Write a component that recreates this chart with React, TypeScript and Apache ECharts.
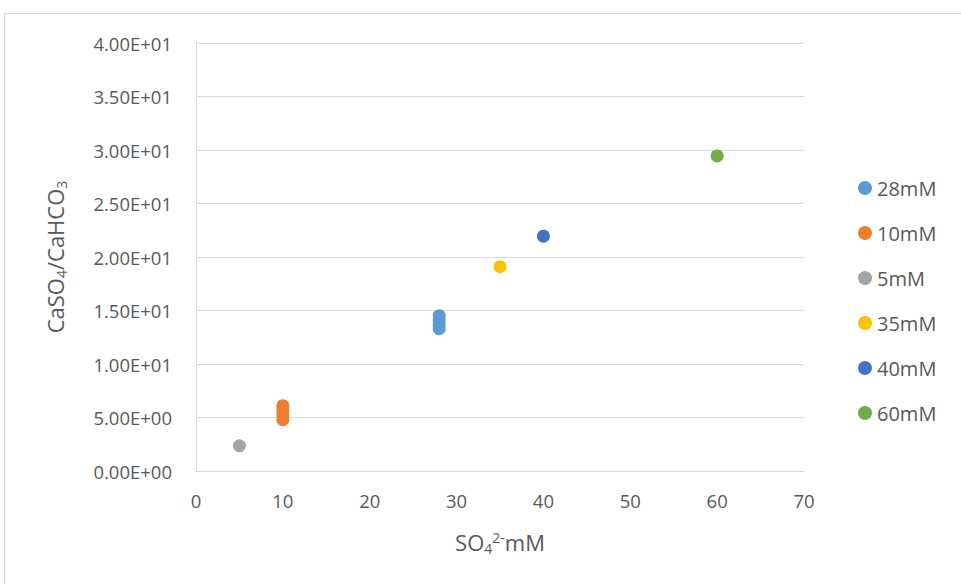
import React, { useEffect, useRef } from "react";
import * as echarts from "echarts";

const seriesNames = ["28mM", "10mM", "5mM", "35mM", "40mM", "60mM"];
const seriesColors = ["#5B9BD5", "#ED7D31", "#A5A5A5", "#FFC000", "#4472C4", "#70AD47"];
const s28: number[][] = [[28, 14.5], [28, 14.1], [28, 13.7], [28, 13.3]];
const s10: number[][] = [[10, 6.1], [10, 5.6], [10, 5.2], [10, 4.8]];
const s5: number[][] = [[5, 2.35]];
const s35: number[][] = [[35, 19.1]];
const s40: number[][] = [[40, 21.95]];
const s60: number[][] = [[60, 29.45]];
const seriesData = [s28, s10, s5, s35, s40, s60];

const xMin = 0, xMax = 70, xStep = 10;
const yMin = 0, yMax = 40, yStep = 5;

const FONT = "Open Sans";
const TXT = "#595959";
const GRID = "#d9d9d9";

function sci(v: number): string {
  if (v === 0) return "0.00E+00";
  const e = Math.floor(Math.log10(Math.abs(v)));
  const m = v / Math.pow(10, e);
  return `${m.toFixed(2)}E${e >= 0 ? "+" : "-"}${String(Math.abs(e)).padStart(2, "0")}`;
}

export default function App() {
  const ref = useRef<HTMLDivElement>(null);
  useEffect(() => {
    if (!ref.current) return;
    const chart = echarts.init(ref.current, null, { renderer: "svg" });
    chart.setOption({
      animation: false,
      backgroundColor: "#ffffff",
      textStyle: { fontFamily: FONT },
      graphic: [
        {
          type: "rect",
          shape: { x: 4.5, y: 13.5, width: 1200, height: 1200 },
          style: { fill: "none", stroke: "#d4d4d4", lineWidth: 1.2 },
          silent: true,
        },
      ],
      grid: { left: 196, right: 157, top: 43, bottom: 113 },
      legend: {
        orient: "vertical",
        left: 853,
        top: 173,
        itemWidth: 14,
        itemHeight: 14,
        itemGap: 25,
        icon: "circle",
        data: seriesNames,
        textStyle: { fontSize: 20, color: TXT, fontFamily: FONT },
      },
      xAxis: {
        type: "value",
        min: xMin,
        max: xMax,
        interval: xStep,
        name: "{a|SO}{s|4}{p|2-}{a|mM}",
        nameLocation: "middle",
        nameGap: 58,
        nameTextStyle: {
          rich: {
            a: { fontSize: 22, color: TXT, fontFamily: FONT },
            s: { fontSize: 14, color: TXT, fontFamily: FONT, padding: [12, 0, 0, 0] },
            p: { fontSize: 14, color: TXT, fontFamily: FONT, padding: [0, 0, 10, 0] },
          },
        },
        axisLine: { show: true, lineStyle: { color: GRID, width: 1 } },
        axisTick: { show: false },
        splitLine: { show: false },
        axisLabel: { fontSize: 18.5, color: TXT, fontFamily: FONT, margin: 20 },
      },
      yAxis: {
        type: "value",
        min: yMin,
        max: yMax,
        interval: yStep,
        name: "{a|CaSO}{s|4}{a|/CaHCO}{s|3}",
        nameLocation: "middle",
        nameRotate: 90,
        nameGap: 128,
        nameTextStyle: {
          rich: {
            a: { fontSize: 22, color: TXT, fontFamily: FONT },
            s: { fontSize: 14, color: TXT, fontFamily: FONT, padding: [12, 0, 0, 0] },
          },
        },
        axisLine: { show: true, lineStyle: { color: GRID, width: 1 } },
        axisTick: { show: false },
        splitLine: { show: true, lineStyle: { color: GRID, width: 1 } },
        axisLabel: {
          fontSize: 18.5,
          color: TXT,
          fontFamily: FONT,
          margin: 24,
          formatter: (v: number) => sci(v),
        },
      },
      series: seriesNames.map((n, i) => ({
        name: n,
        type: "scatter",
        data: seriesData[i],
        symbol: "circle",
        symbolSize: 13,
        itemStyle: { color: seriesColors[i], opacity: 1 },
      })),
    });
    return () => chart.dispose();
  }, []);
  return (
    <div
      ref={ref}
      style={{ position: "absolute", left: 0, top: 0, width: 961, height: 584 }}
    />
  );
}
